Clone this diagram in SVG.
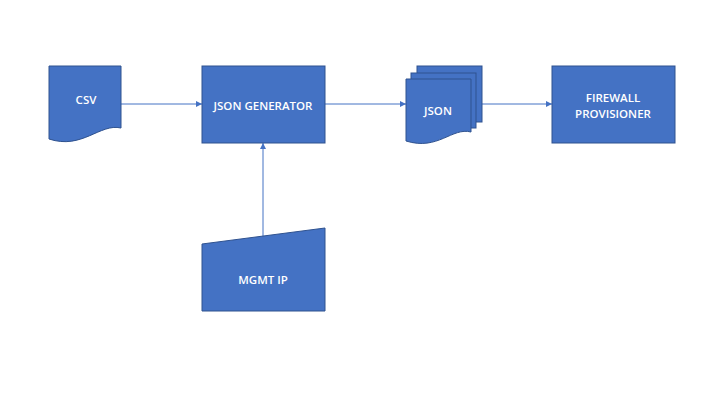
<svg xmlns="http://www.w3.org/2000/svg" width="720" height="405" viewBox="0 0 720 405">
<defs>
<style>
.shape{fill:#4472C4;stroke:#2F528F;stroke-width:1}
.lbl{fill:#FFFFFF;font-family:"Open Sans","Liberation Sans",sans-serif;font-size:11.5px;font-weight:600;text-anchor:middle;dominant-baseline:central}
.conn{stroke:#4472C4;stroke-width:1;fill:none;marker-end:url(#arr)}
</style>
<marker id="arr" viewBox="0 0 6 6" refX="6" refY="3" markerWidth="6" markerHeight="6" orient="auto" markerUnits="userSpaceOnUse">
<path d="M0,0 L6,3 L0,6 Z" fill="#4472C4"/>
</marker>
</defs>
<rect width="720" height="405" fill="#FFFFFF"/>
<g id="connectors">
<line class="conn" x1="121" y1="104" x2="202" y2="104"/>
<line class="conn" x1="325" y1="104" x2="406" y2="104"/>
<line class="conn" x1="482" y1="104" x2="552" y2="104"/>
<line class="conn" x1="263" y1="237" x2="263" y2="143"/>
</g>
<g id="csv">
<path class="shape" d="M49,66 H121 V128 C100,123 82,150 49,139 Z"/>
<text class="lbl" x="86" y="99">CSV</text>
</g>
<g id="json-generator">
<rect class="shape" x="202" y="66" width="123" height="77"/>
<text class="lbl" x="263" y="105">JSON GENERATOR</text>
</g>
<g id="json">
<rect class="shape" x="417" y="66" width="65" height="56"/>
<rect class="shape" x="411" y="73" width="65" height="55"/>
<path class="shape" d="M406,79 H471 V132 C452,127 438,151 406,141 Z"/>
<text class="lbl" x="438" y="110">JSON</text>
</g>
<g id="firewall-provisioner">
<rect class="shape" x="552" y="66" width="123" height="77"/>
<text class="lbl" x="613" y="97">FIREWALL</text>
<text class="lbl" x="613" y="113">PROVISIONER</text>
</g>
<g id="mgmt-ip">
<path class="shape" d="M202,244 L325,228 V311 H202 Z"/>
<text class="lbl" x="263" y="279">MGMT IP</text>
</g>
</svg>
